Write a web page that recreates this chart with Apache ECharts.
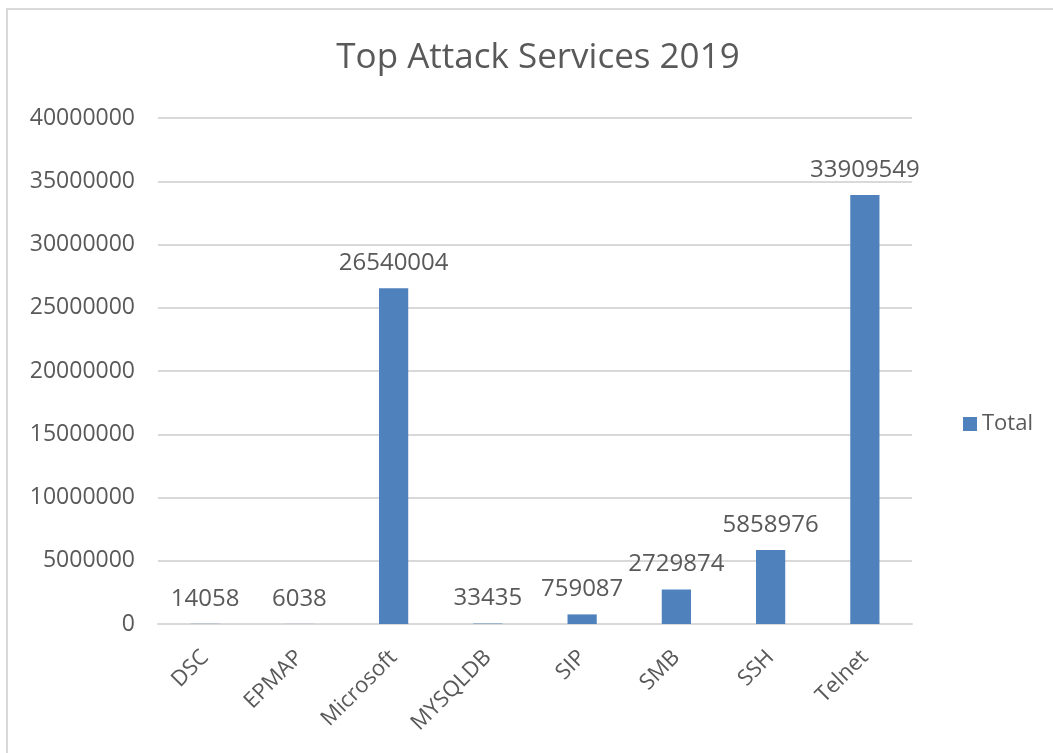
<!DOCTYPE html>
<html>
<head>
<meta charset="utf-8">
<script src="https://cdn.jsdelivr.net/npm/echarts@6/dist/echarts.min.js"></script>
<style>
  html, body { margin: 0; padding: 0; background: #fff; }
  #chart { width: 1053px; height: 753px; }
</style>
</head>
<body>
<div id="chart"></div>
<script>
// Attack counts per service, 2019
const categories = ['DSC', 'EPMAP', 'Microsoft', 'MYSQLDB', 'SIP', 'SMB', 'SSH', 'Telnet'];
const totals = [14058, 6038, 26540004, 33435, 759087, 2729874, 5858976, 33909549];
const seriesName = 'Total';
const titleText = 'Top Attack Services 2019';

const textColor = '#595959';
const gridColor = '#d9d9d9';
const barColor = '#4f81bd';
const fontFamily = '"Open Sans", "Noto Sans", sans-serif';

const chart = echarts.init(document.getElementById('chart'), null, { renderer: 'canvas' });

chart.setOption({
  backgroundColor: '#ffffff',
  animation: false,
  title: {
    text: titleText,
    left: 533,
    textAlign: 'center',
    top: 36,
    textStyle: { color: textColor, fontFamily, fontSize: 35, fontWeight: 'normal' }
  },
  legend: {
    data: [seriesName],
    orient: 'vertical',
    left: 958,
    top: 408,
    icon: 'rect',
    itemWidth: 14,
    itemHeight: 14,
    itemGap: 6,
    textStyle: { color: textColor, fontFamily, fontSize: 22 }
  },
  graphic: [{
    type: 'rect',
    shape: { x: 7, y: 9, width: 1100, height: 800 },
    style: { fill: 'none', stroke: gridColor, lineWidth: 2 },
    silent: true
  }],
  grid: { left: 158, right: 141, top: 118, bottom: 129, containLabel: false },
  xAxis: {
    type: 'category',
    data: categories,
    axisLine: { lineStyle: { color: gridColor, width: 2 } },
    axisTick: { show: false },
    axisLabel: {
      rotate: 45,
      margin: 30,
      color: textColor,
      fontFamily,
      fontSize: 22,
      interval: 0
    }
  },
  yAxis: {
    type: 'value',
    min: 0,
    max: 40000000,
    interval: 5000000,
    axisLine: { show: false },
    axisTick: { show: false },
    splitLine: { lineStyle: { color: gridColor, width: 2 } },
    axisLabel: {
      margin: 23,
      color: textColor,
      fontFamily,
      fontSize: 23,
      formatter: (v) => String(v)
    }
  },
  series: [{
    name: seriesName,
    type: 'bar',
    data: totals,
    barWidth: '31%',
    itemStyle: { color: barColor },
    label: {
      show: true,
      position: 'top',
      distance: 13,
      color: textColor,
      fontFamily,
      fontSize: 24
    }
  }]
});
</script>
</body>
</html>
